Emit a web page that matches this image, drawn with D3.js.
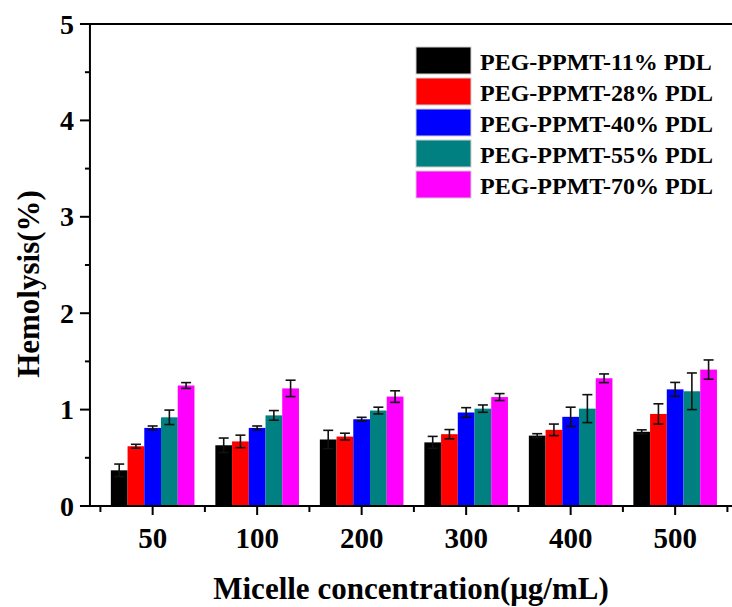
<!DOCTYPE html>
<html><head><meta charset="utf-8">
<script src="https://cdn.jsdelivr.net/npm/d3@7"></script>
<style>
html,body{margin:0;padding:0;background:#fff;}
text{font-family:"Liberation Serif","Times New Roman",serif;font-weight:bold;fill:#000;}
</style></head>
<body><svg id="c" width="732" height="607"></svg>
<script>
const categories = ["50","100","200","300","400","500"];
const seriesNames = ["PEG-PPMT-11% PDL","PEG-PPMT-28% PDL","PEG-PPMT-40% PDL","PEG-PPMT-55% PDL","PEG-PPMT-70% PDL"];
const seriesColors = ["#000000","#ff0000","#0000ff","#008080","#ff00ff"];
const s11 = [0.37, 0.63, 0.69, 0.66, 0.73, 0.77];
const e11 = [0.065, 0.075, 0.095, 0.062, 0.02, 0.02];
const s28 = [0.62, 0.67, 0.72, 0.745, 0.79, 0.955];
const e28 = [0.02, 0.065, 0.035, 0.048, 0.06, 0.105];
const s40 = [0.81, 0.81, 0.90, 0.97, 0.925, 1.21];
const e40 = [0.02, 0.02, 0.02, 0.05, 0.10, 0.072];
const s55 = [0.92, 0.94, 0.99, 1.01, 1.01, 1.19];
const e55 = [0.075, 0.05, 0.035, 0.038, 0.145, 0.19];
const s70 = [1.25, 1.22, 1.135, 1.13, 1.325, 1.415];
const e70 = [0.03, 0.085, 0.06, 0.036, 0.045, 0.10];
const yTicks = [0,1,2,3,4,5];
const yMinor = [0.5,1.5,2.5,3.5,4.5];

const values = [s11,s28,s40,s55,s70];
const errors = [e11,e28,e40,e55,e70];

const svg = d3.select("#c");
const x = d3.scaleLinear().domain([-0.5,5.5]).range([100.4,727.4]);
const y = d3.scaleLinear().domain([0,5]).range([506,24]);
const inner = d3.scaleBand().domain(d3.range(seriesNames.length)).range([-0.4,0.4]);
const xLeft = x(-0.6), xRight = x(6.0);

const data = [];
categories.forEach((c,i)=>{
  values.forEach((s,k)=>{
    data.push({i,k,v:s[i],e:errors[k][i]});
  });
});

// bars
svg.append("g").selectAll("rect").data(data).join("rect")
  .attr("x",d=>x(d.i+inner(d.k)))
  .attr("width",d=>x(d.i+inner(d.k)+inner.bandwidth())-x(d.i+inner(d.k)))
  .attr("y",d=>y(d.v))
  .attr("height",d=>y(0)-y(d.v))
  .attr("fill",d=>seriesColors[d.k]);

// error bars
const eg = svg.append("g").attr("stroke","#111").attr("stroke-width",1.6);
data.forEach(d=>{
  const cx = x(d.i+inner(d.k)+inner.bandwidth()/2);
  const hw = 5;
  eg.append("line").attr("x1",cx).attr("x2",cx).attr("y1",y(d.v+d.e)).attr("y2",y(d.v-d.e));
  eg.append("line").attr("x1",cx-hw).attr("x2",cx+hw).attr("y1",y(d.v+d.e)).attr("y2",y(d.v+d.e));
  eg.append("line").attr("x1",cx-hw).attr("x2",cx+hw).attr("y1",y(d.v-d.e)).attr("y2",y(d.v-d.e));
});

// frame
const fg = svg.append("g").attr("stroke","#000").attr("stroke-width",2).attr("fill","none");
fg.append("line").attr("x1",xLeft).attr("x2",xRight).attr("y1",y(5)).attr("y2",y(5));
fg.append("line").attr("x1",xLeft).attr("x2",xRight).attr("y1",y(0)).attr("y2",y(0));
fg.append("line").attr("x1",xLeft).attr("x2",xLeft).attr("y1",y(5)-1).attr("y2",y(0)+1);

// y ticks
yTicks.forEach(t=>{
  fg.append("line").attr("x1",xLeft-10).attr("x2",xLeft).attr("y1",y(t)).attr("y2",y(t));
  svg.append("text").attr("x",xLeft-16).attr("y",y(t)).attr("dy","0.34em")
    .attr("text-anchor","end").attr("font-size",28).text(t);
});
yMinor.forEach(t=>{
  fg.append("line").attr("x1",xLeft-5).attr("x2",xLeft).attr("y1",y(t)).attr("y2",y(t));
});

// x ticks
categories.forEach((c,i)=>{
  fg.append("line").attr("x1",x(i)).attr("x2",x(i)).attr("y1",y(0)).attr("y2",y(0)+9);
  svg.append("text").attr("x",x(i)).attr("y",547.5).attr("text-anchor","middle")
    .attr("font-size",29).text(c);
});
d3.range(-0.5,6,1).forEach(t=>{
  fg.append("line").attr("x1",x(t)).attr("x2",x(t)).attr("y1",y(0)).attr("y2",y(0)+6);
});

// axis titles
svg.append("text").attr("x",411).attr("y",599).attr("text-anchor","middle")
  .attr("font-size",31).text("Micelle concentration(μg/mL)");
svg.append("text").attr("transform","translate(39,284) rotate(-90)").attr("text-anchor","middle")
  .attr("font-size",31).text("Hemolysis(%)");

// legend
const lg = svg.append("g");
seriesNames.forEach((n,k)=>{
  const top = 47 + k*31;
  lg.append("rect").attr("x",416).attr("y",top).attr("width",55).attr("height",27)
    .attr("fill",seriesColors[k]).attr("stroke","#d0d0d0").attr("stroke-width",1);
  lg.append("text").attr("x",480).attr("y",top+22.5).attr("font-size",24).text(n);
});
</script></body></html>
